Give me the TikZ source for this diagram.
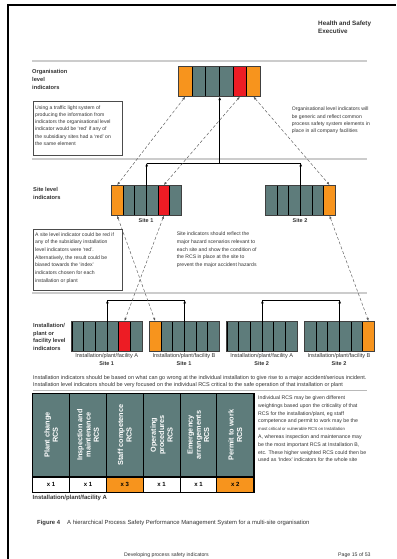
\documentclass[tikz,border=0pt]{standalone}
\usepackage{fontspec}
\setmainfont{Liberation Sans}
\usepackage{graphicx}
\usetikzlibrary{arrows.meta}
\definecolor{slate}{HTML}{5E7C7B}
\definecolor{amber}{HTML}{F7941D}
\definecolor{alarm}{HTML}{ED1C24}
\definecolor{txtgray}{HTML}{333333}
\newcommand\fs[2]{\fontsize{#1}{#2}\selectfont}
\tikzset{
  cell/.style={draw=black, line width=0.7pt, inner sep=0pt, anchor=north west},
  baredge/.style={draw=black!75, line width=0.8pt},
  link/.style={line width=0.8pt, -{Latex[length=3.4pt,width=2.8pt]}},
  hlink/.style={line width=0.8pt},
  dashlink/.style={draw=black!65, line width=0.45pt, densely dashed,
    {Latex[length=3pt,width=2.4pt]}-{Latex[length=3pt,width=2.4pt]}},
  sepline/.style={draw=gray!60!black, line width=0.7pt, double=gray!40, double distance=1.1pt},
  thinsep/.style={draw=gray!55, line width=0.9pt},
  infobox/.style={draw=black!70, line width=0.8pt, inner sep=0pt, anchor=north west},
  txt/.style={inner sep=0pt, anchor=north west, align=left, text=txtgray},
  lvl/.style={txt, font=\bfseries\fs{5.7}{8}},
  body/.style={txt, font=\fs{5.1}{7.1}},
  sitelab/.style={inner sep=0pt, text=txtgray, font=\bfseries\fs{5.5}{6}},
  instlab/.style={inner sep=0pt, text=txtgray, font=\fs{5.6}{6}},
  headcell/.style={draw=black, line width=0.8pt, fill=slate, minimum width=36.83pt,
    minimum height=82.7pt, inner sep=0pt, anchor=north west},
  headtext/.style={rotate=90, align=center, text=white, inner sep=0pt,
    font=\bfseries\fs{7.3}{8.3}},
  weightcell/.style={draw=black, line width=0.8pt, minimum width=36.83pt,
    minimum height=15pt, inner sep=0pt, anchor=north west, text=black,
    font=\bfseries\fs{6}{7}},
}
% name, x, y, cell width, cell height, colours
\newcommand\cellrow[6]{%
  \foreach \cc [count=\ii] in {#6}{
    \node[cell, fill=\cc, minimum width=#4pt, minimum height=#5pt] (#1-\ii) at ({#2+(\ii-1)*#4},#3) {};
  }
  \draw[baredge] (#1-1.north west) rectangle (#1-6.south east);
}
% index, header text, weight, weight fill
\newcommand\rcscol[4]{%
  \node[headcell] (th-#1) at ({32.3+(#1-1)*36.83},393.3) {};
  \node[headtext] (tt-#1) at (th-#1.center) {#2};
  \node[weightcell, fill=#4] (tw-#1) at (th-#1.south west) {#3};
}
\begin{document}
\begin{tikzpicture}[x=1pt,y=-1pt]
\useasboundingbox (0,0) rectangle (396,559);
\fill[white] (0,0) rectangle (396,559);
% page frame
\draw[line width=1.5pt, black] (8,559) -- (8,5) -- (396,5);

% header
\node[txt, font=\bfseries\fs{6.3}{8.4}] (hse) at (318,20.5) {Health and Safety\\Executive};

% separators
\draw[sepline] (32,61) -- (367,61);
\draw[sepline] (32,159) -- (367,159);
\draw[sepline] (32,293) -- (367,293);
\draw[thinsep] (33,390.5) -- (367,390.5);

% level labels
\node[lvl] (lorg) at (32,69) {Organisation\\level\\indicators};
\node[lvl, font=\bfseries\fs{5.7}{8.4}] (lsite) at (33,187.2) {Site level\\indicators};
\node[lvl, font=\bfseries\fs{5.7}{7.5}] (linst) at (33,323.6) {Installation/\\plant or\\facility level\\indicators};

% bars
\cellrow{org}{178}{66}{13.667}{30}{amber,slate,slate,slate,alarm,amber}
\cellrow{sa}{111}{185}{11.667}{30}{amber,slate,slate,slate,alarm,slate}
\cellrow{sb}{265}{185}{11.667}{30}{slate,slate,slate,slate,slate,amber}
\cellrow{ia}{71.7}{321}{11.667}{30}{slate,slate,slate,slate,alarm,slate}
\cellrow{ib}{149}{321}{11.667}{30}{amber,slate,slate,slate,slate,slate}
\cellrow{ic}{226.7}{321}{11.667}{30}{slate,slate,slate,slate,slate,slate}
\cellrow{id}{304}{321}{11.667}{30}{slate,slate,slate,slate,slate,amber}

% site -> organisation connectors
\coordinate (hubS) at (219,163);
\draw[hlink] (sa-3.south east |- hubS) -- (sb-3.south east |- hubS);
\draw[link] (sa-3.south east) -- (sa-3.south east |- hubS);
\draw[link] (sb-3.south east) -- (sb-3.south east |- hubS);
\draw[link, line width=1.2pt] (org-3.south east |- hubS) -- (org-3.south east);

% installation connectors
\coordinate (hubA) at (145,300);
\coordinate (hubB) at (300,300);
\draw[hlink] (ia-3.south east |- hubA) -- (ib-3.south east |- hubA);
\draw[link] (ia-3.south east) -- (ia-3.south east |- hubA);
\draw[link] (ib-3.south east) -- (ib-3.south east |- hubA);
\draw[hlink] (ic-3.south east |- hubB) -- (id-3.south east |- hubB);
\draw[link] (ic-3.south east) -- (ic-3.south east |- hubB);
\draw[link] (id-3.south east) -- (id-3.south east |- hubB);

% dashed element links
\draw[dashlink] (org-1.south) -- (sa-1.north);
\draw[dashlink] (org-5.south) -- (sa-5.north);
\draw[dashlink] (org-6.south) -- (sb-6.north);
\draw[dashlink] (sa-1.south) -- (ib-1.north);
\draw[dashlink] (sa-5.south) -- (ia-5.north);
\draw[dashlink] (sb-6.south) -- (id-6.north);

% bar labels
\node[sitelab] (s1lab) at (146,221) {Site 1};
\node[sitelab] (s2lab) at (300,221) {Site 2};
\node[instlab] (ialab) at (106.7,356) {Installation/plant/facility A};
\node[sitelab] (ias) at (106.7,364) {Site 1};
\node[instlab] (iblab) at (184,356) {Installation/plant/facility B};
\node[sitelab] (ibs) at (184,364) {Site 1};
\node[instlab] (iclab) at (261.7,356) {Installation/plant/facility A};
\node[sitelab] (ics) at (261.7,364) {Site 2};
\node[instlab] (idlab) at (339,356) {Installation/plant/facility B};
\node[sitelab] (ids) at (339,364) {Site 2};

% boxes and notes
\node[infobox, minimum width=89pt, minimum height=54pt] (box1) at (33,101) {};
\node[body] (box1t) at (35,105.8) {Using a traffic light system of\\producing the information from\\indicators the organisational level\\indicator would be `red' if any of\\the subsidiary sites had a `red' on\\the same element};
\node[body] (note1) at (291.7,107.1) {Organisational level indicators will\\be generic and reflect common\\process safety system elements in\\place in all company facilities};
\node[infobox, minimum width=89pt, minimum height=61pt] (box2) at (33,229) {};
\node[body, font=\fs{5.1}{7.7}] (box2t) at (35,232.3) {A site level indicator could be red if\\any of the subsidiary installation\\level indicators were `red'.\\Alternatively, the result could be\\biased towards the `index'\\indicators chosen for each\\installation or plant};
\node[body, font=\fs{5.1}{7.6}] (note2) at (176.7,232) {Site indicators should reflect the\\major hazard scenarios relevant to\\each site and show the condition of\\the RCS in place at the site to\\prevent the major accident hazards};
\node[body, font=\fs{5.5}{7}] (note3) at (33,375) {Installation indicators should be based on what can go wrong at the individual installation to give rise to a major accident/serious incident.\\Installation level indicators should be very focused on the individual RCS critical to the safe operation of that installation or plant};

% RCS table
\rcscol{1}{Plant change\\RCS}{x 1}{white}
\rcscol{2}{Inspection and\\maintenance\\RCS}{x 1}{white}
\rcscol{3}{Staff competence\\RCS}{x 3}{amber}
\rcscol{4}{Operating\\procedures\\RCS}{x 1}{white}
\rcscol{5}{Emergency\\arrangements\\RCS}{x 1}{white}
\rcscol{6}{Permit to work\\RCS}{x 2}{amber}
\draw[line width=1.6pt] (th-1.north west) rectangle (tw-6.south east);

\node[body, font=\fs{5.2}{7.8}] (note4) at (258,395.6) {Individual RCS may be given different\\weightings based upon the criticality of that\\RCS for the installation/plant, eg staff\\competence and permit to work may be the\\{\fs{4.3}{7.8}most critical or vulnerable RCS on Installation}\\A, whereas inspection and maintenance may\\be the most important RCS at Installation B,\\etc. These higher weighted RCS could then be\\used as `Index' indicators for the whole site};
\node[txt, font=\bfseries\fs{6}{7}] (tabcap) at (32.5,494.8) {Installation/plant/facility A};

% caption and footer
\node[txt, font=\bfseries\fs{5.9}{6.5}] (fignum) at (37,519.8) {Figure 4};
\node[txt, font=\fs{5.9}{6.5}] (figcap) at (67,519.8) {A hierarchical Process Safety Performance Management System for a multi-site organisation};
\node[inner sep=0pt, text=txtgray, font=\fs{5.2}{6}] (foot1) at (166.5,555) {Developing process safety indicators};
\node[txt, font=\fs{5.2}{6}] (foot2) at (338,553) {Page 15 of 53};
\end{tikzpicture}
\end{document}
